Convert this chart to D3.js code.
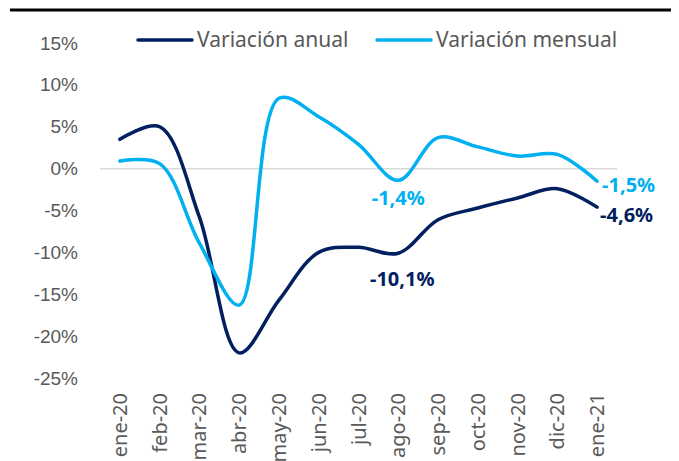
<!DOCTYPE html>
<html>
<head>
<meta charset="utf-8">
<script src="https://cdn.jsdelivr.net/npm/d3@7"></script>
<style>
  body { margin: 0; background: #fff; }
  svg { display: block; font-family: 'Noto Sans', sans-serif; }
  .axis--y text { font-variant-numeric: oldstyle-nums; }
</style>
</head>
<body>
<svg width="679" height="461"></svg>
<script>
var months = ['ene-20', 'feb-20', 'mar-20', 'abr-20', 'may-20', 'jun-20', 'jul-20',
  'ago-20', 'sep-20', 'oct-20', 'nov-20', 'dic-20', 'ene-21'];
var anual = [3.5, 5.0, -5.8, -22.0, -15.7, -10.0, -9.4, -10.1, -6.1, -4.7, -3.5, -2.4, -4.6];
var mensual = [0.9, 0.6, -8.9, -16.3, 8.4, 6.2, 2.9, -1.4, 3.7, 2.6, 1.5, 1.7, -1.5];
var yTicks = [15, 10, 5, 0, -5, -10, -15, -20, -25];
var series = [
  {name: 'Variación anual', values: anual, color: '#002060'},
  {name: 'Variación mensual', values: mensual, color: '#00B0F0'}
];

var svg = d3.select('svg');

var x = d3.scaleBand().domain(months).range([100, 617]);
var y = d3.scaleLinear().domain([-25, 15]).range([378, 43]);
var cx = function(m) { return x(m) + x.bandwidth() / 2; };

// top rule
svg.append('line')
  .attr('x1', 10).attr('x2', 671)
  .attr('y1', 10).attr('y2', 10)
  .attr('stroke', '#000').attr('stroke-width', 3);

// y axis labels
var gy = svg.append('g')
  .attr('class', 'axis axis--y')
  .attr('transform', 'translate(78,0)')
  .call(d3.axisLeft(y).tickValues(yTicks).tickSize(0).tickPadding(0)
    .tickFormat(function(d) { return d + '%'; }));
gy.select('.domain').remove();
gy.selectAll('text').attr('fill', '#595959').attr('font-size', 19);

// zero line
svg.append('line')
  .attr('x1', 100).attr('x2', 617)
  .attr('y1', y(0)).attr('y2', y(0))
  .attr('stroke', '#d9d9d9').attr('stroke-width', 1.5);

// x labels (rotated)
svg.append('g')
  .selectAll('text')
  .data(months)
  .join('text')
  .attr('transform', function(d) { return 'translate(' + (cx(d) + 7) + ',393) rotate(-90)'; })
  .attr('text-anchor', 'end')
  .attr('fill', '#595959')
  .attr('font-size', 20)
  .text(function(d) { return d; });

var line = d3.line()
  .curve(d3.curveCatmullRom.alpha(0.5))
  .x(function(d, i) { return cx(months[i]); })
  .y(function(d) { return y(d); });

svg.append('g')
  .selectAll('path')
  .data(series)
  .join('path')
  .attr('d', function(s) { return line(s.values); })
  .attr('fill', 'none')
  .attr('stroke', function(s) { return s.color; })
  .attr('stroke-width', 3.5)
  .attr('stroke-linecap', 'round');

// legend
var legend = svg.append('g');
var lx = [138, 377];
series.forEach(function(s, i) {
  legend.append('line')
    .attr('x1', lx[i]).attr('x2', lx[i] + 54)
    .attr('y1', 40).attr('y2', 40)
    .attr('stroke', s.color).attr('stroke-width', 3.5)
    .attr('stroke-linecap', 'round');
  legend.append('text')
    .attr('x', lx[i] + 59).attr('y', 47)
    .attr('fill', '#595959')
    .attr('font-size', 21)
    .text(s.name);
});

// data labels
var fmt = function(v) { return String(v.toFixed(1)).replace('.', ',') + '%'; };
var labels = [
  {s: 1, i: 7, dx: 0, dy: 25, anchor: 'middle'},
  {s: 0, i: 7, dx: 4, dy: 33, anchor: 'middle'},
  {s: 1, i: 12, dx: 5, dy: 11, anchor: 'start'},
  {s: 0, i: 12, dx: 3, dy: 15, anchor: 'start'}
];
svg.append('g')
  .selectAll('text')
  .data(labels)
  .join('text')
  .attr('x', function(d) { return cx(months[d.i]) + d.dx; })
  .attr('y', function(d) { return y(series[d.s].values[d.i]) + d.dy; })
  .attr('text-anchor', function(d) { return d.anchor; })
  .attr('fill', function(d) { return series[d.s].color; })
  .attr('font-size', 20)
  .attr('font-weight', 'bold')
  .text(function(d) { return fmt(series[d.s].values[d.i]); });
</script>
</body>
</html>
